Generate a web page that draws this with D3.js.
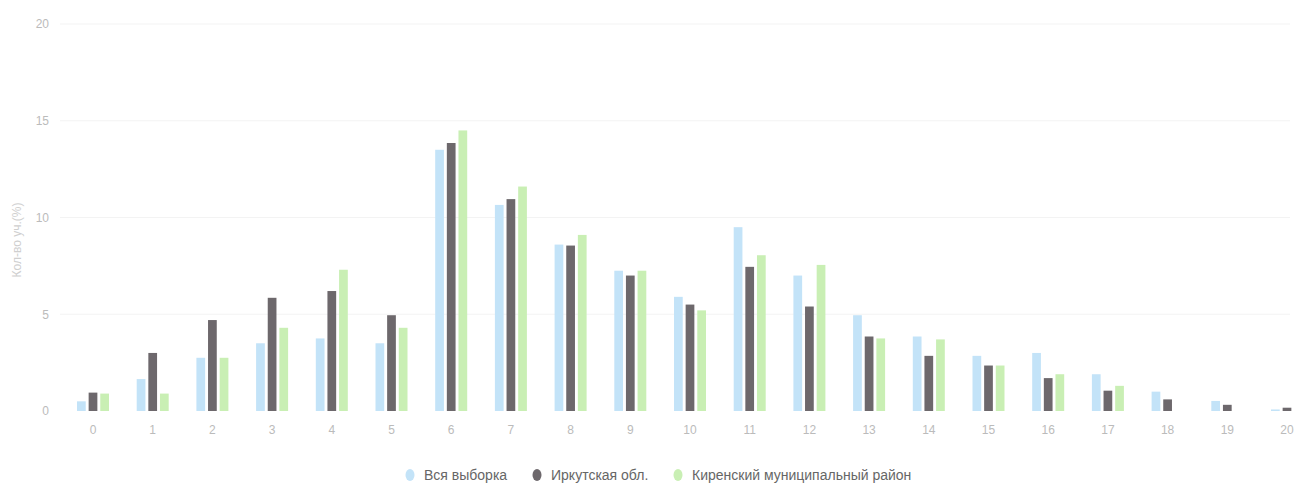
<!DOCTYPE html>
<html><head><meta charset="utf-8">
<script src="https://cdn.jsdelivr.net/npm/d3@7/dist/d3.min.js"></script>
<style>body{margin:0;background:#fff}svg{display:block}</style>
</head><body>
<svg id="c" width="1295" height="485"></svg>
<script>
const categories = ["0","1","2","3","4","5","6","7","8","9","10","11","12","13","14","15","16","17","18","19","20"];
const seriesNames = ["Вся выборка","Иркутская обл.","Киренский муниципальный район"];
const vsya = [0.5,1.65,2.75,3.5,3.75,3.5,13.5,10.65,8.6,7.25,5.9,9.5,7.0,4.95,3.85,2.85,3.0,1.9,1.0,0.52,0.08];
const irk  = [0.95,3.0,4.7,5.85,6.2,4.95,13.85,10.95,8.55,7.0,5.5,7.45,5.4,3.85,2.85,2.35,1.7,1.05,0.6,0.32,0.17];
const kir  = [0.9,0.9,2.75,4.3,7.3,4.3,14.5,11.6,9.1,7.25,5.2,8.05,7.55,3.75,3.7,2.35,1.9,1.3,0,0,0];
const yTicks = [0,5,10,15,20];
const colors = ["#c3e3f8","#6d686c","#c9efb4"];
const yLabel = "Кол-во уч.(%)";

const svg = d3.select("#c");
const step = 59.7, c0 = 93;
const x0 = d3.scaleBand().domain(categories).range([c0 - step/2, c0 + step*(categories.length-0.5)]).padding(0);
const x1 = d3.scaleBand().domain(seriesNames).range([-16, 16]).paddingInner(0.25);
const y = d3.scaleLinear().domain([0,20]).range([411, 24]);
const data = [vsya, irk, kir];
const font = "Liberation Sans, Arial, sans-serif";

// grid
svg.append("g").selectAll("line").data(yTicks.filter(d=>d>0)).join("line")
  .attr("x1", 60).attr("x2", 1290).attr("y1", d=>y(d)).attr("y2", d=>y(d))
  .attr("stroke", "#f3f3f3").attr("stroke-width", 1);

// y axis
const yAxis = svg.append("g").attr("transform","translate(49,0)")
  .call(d3.axisLeft(y).tickValues(yTicks).tickSize(0).tickPadding(0));
yAxis.select(".domain").remove();
yAxis.selectAll("text").attr("fill","#bbbbbb").style("font-family",font).style("font-size","12px");

// x axis
const xAxis = svg.append("g").attr("transform","translate(0,425)")
  .call(d3.axisBottom(x0).tickSize(0).tickPadding(0));
xAxis.select(".domain").remove();
xAxis.selectAll("text").attr("fill","#bbbbbb").style("font-family",font).style("font-size","12px");

// bars
seriesNames.forEach((s, si) => {
  svg.append("g").selectAll("rect").data(categories.map((c,i)=>({c, v:data[si][i]}))).join("rect")
    .attr("x", d => x0(d.c) + x0.bandwidth()/2 + x1(s))
    .attr("width", x1.bandwidth())
    .attr("y", d => y(d.v))
    .attr("height", d => y(0) - y(d.v))
    .attr("fill", colors[si]);
});

// y label
svg.append("text").attr("transform","translate(21,240) rotate(-90)")
  .attr("text-anchor","middle").attr("fill","#cfcfcf")
  .style("font-family",font).style("font-size","12px")
  .text(yLabel);

// legend
const legX = [410, 537, 678];
const leg = svg.append("g");
seriesNames.forEach((s, si) => {
  leg.append("ellipse").attr("cx", legX[si]).attr("cy", 475).attr("rx", 4.5).attr("ry", 6).attr("fill", colors[si]);
  leg.append("text").attr("x", legX[si] + 14).attr("y", 480).attr("fill","#666")
    .style("font-family",font).style("font-size","14px").text(s);
});
</script>
</body></html>
